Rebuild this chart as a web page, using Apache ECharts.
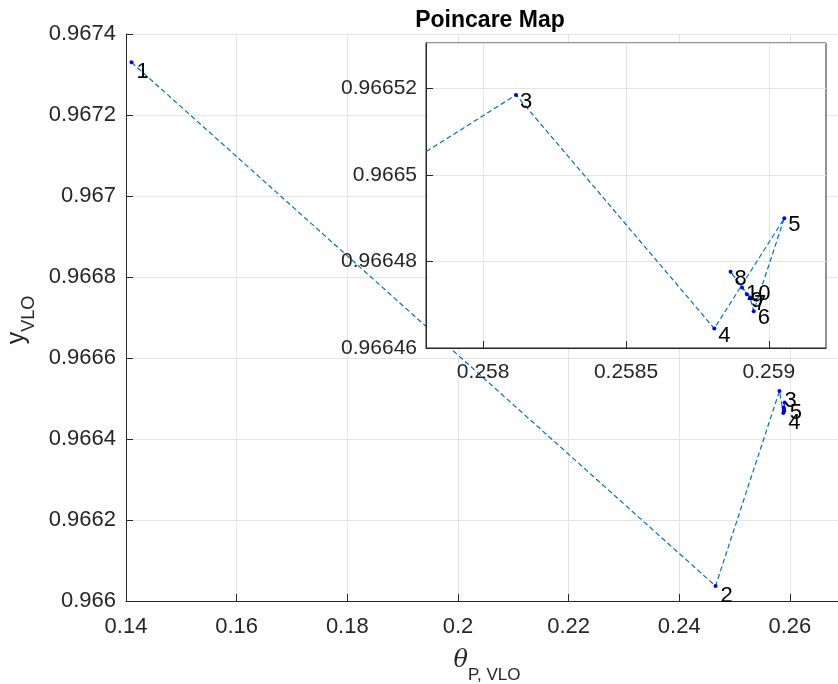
<!DOCTYPE html>
<html>
<head>
<meta charset="utf-8">
<script src="https://cdn.jsdelivr.net/npm/echarts@6/dist/echarts.min.js"></script>
<style>
  html, body { margin: 0; padding: 0; background: #fff; }
  #chart { width: 838px; height: 684px; }
</style>
</head>
<body>
<div id="chart"></div>
<script>
// Poincare map points
const thetaVals = [0.1410, 0.24656, 0.258115, 0.258809, 0.259054, 0.258947, 0.258934, 0.258866, 0.258923, 0.258906];
const yVals = [0.96733, 0.966037, 0.9665185, 0.9664645, 0.96649, 0.9664685, 0.9664717, 0.9664776, 0.9664724, 0.966474];
const pointLabels = ['1', '2', '3', '4', '5', '6', '7', '8', '9', '10'];
const insetXTicks = [0.258, 0.2585, 0.259];

const FONT = 'Liberation Sans';
const AXIS_COLOR = '#262626';
const GRID_COLOR = '#e3e3e3';

const points = thetaVals.map((x, i) => [x, yVals[i]]);

const chart = echarts.init(document.getElementById('chart'));

const option = {
  backgroundColor: '#fff',
  animation: false,
  title: {
    text: 'Poincare Map',
    left: 485,
    top: 4,
    textAlign: 'center',
    textStyle: { fontFamily: FONT, fontSize: 23, fontWeight: 'bold', color: '#000' }
  },
  grid: [
    // main axes, cut off by the window on the right
    { left: 126, right: 0, top: 34, bottom: 83, outerBoundsMode: 'none' },
    // inset
    {
      left: 426, top: 43, width: 400, height: 305, outerBoundsMode: 'none',
      show: true, backgroundColor: '#fff', borderColor: AXIS_COLOR, borderWidth: 1, z: 10
    }
  ],
  xAxis: [
    {
      type: 'value', gridIndex: 0, min: 0.14, max: 0.2687, interval: 0.02,
      axisLine: { show: true, onZero: false, lineStyle: { color: AXIS_COLOR } },
      axisTick: { show: true, inside: true, length: 7, lineStyle: { color: AXIS_COLOR } },
      axisLabel: { fontFamily: FONT, fontSize: 22, color: AXIS_COLOR, margin: 15, showMaxLabel: false },
      splitLine: { show: true, showMaxLine: false, lineStyle: { color: GRID_COLOR } }
    },
    {
      type: 'value', gridIndex: 1, min: 0.2578, max: 0.2592, z: 11,
      axisLine: { show: true, onZero: false, lineStyle: { color: AXIS_COLOR } },
      axisTick: { show: true, inside: true, length: 7, customValues: insetXTicks, lineStyle: { color: AXIS_COLOR } },
      axisLabel: { fontFamily: FONT, fontSize: 21, color: AXIS_COLOR, margin: 14, customValues: insetXTicks },
      splitLine: { show: true, lineStyle: { color: GRID_COLOR } }
    }
  ],
  yAxis: [
    {
      type: 'value', gridIndex: 0, min: 0.966, max: 0.9674, interval: 0.0002,
      axisLine: { show: true, onZero: false, lineStyle: { color: AXIS_COLOR } },
      axisTick: { show: true, inside: true, length: 7, lineStyle: { color: AXIS_COLOR } },
      axisLabel: { fontFamily: FONT, fontSize: 22, color: AXIS_COLOR, margin: 10 },
      splitLine: { show: true, lineStyle: { color: GRID_COLOR } }
    },
    {
      type: 'value', gridIndex: 1, min: 0.96646, max: 0.9665305, interval: 0.00002, z: 11,
      axisLine: { show: true, onZero: false, lineStyle: { color: AXIS_COLOR } },
      axisTick: { show: true, inside: true, length: 7, lineStyle: { color: AXIS_COLOR } },
      axisLabel: { fontFamily: FONT, fontSize: 21, color: AXIS_COLOR, margin: 9, showMaxLabel: false },
      splitLine: { show: true, lineStyle: { color: GRID_COLOR } }
    }
  ],
  series: [
    {
      type: 'line', xAxisIndex: 0, yAxisIndex: 0, data: points, z: 2,
      symbol: 'circle', symbolSize: 4, showSymbol: true,
      itemStyle: { color: '#0000ff' },
      lineStyle: { color: '#0072BD', width: 1.2, type: [5, 3] },
      label: {
        show: true, position: 'right', distance: 3, offset: [0, 10],
        fontFamily: FONT, fontSize: 22, color: '#000',
        formatter: p => (p.dataIndex < 5 ? pointLabels[p.dataIndex] : '')
      }
    },
    {
      type: 'line', xAxisIndex: 1, yAxisIndex: 1, data: points, z: 12, clip: true,
      symbol: 'circle', symbolSize: 4, showSymbol: true,
      itemStyle: { color: '#0000ff' },
      lineStyle: { color: '#0072BD', width: 1.2, type: [5, 3] },
      label: {
        show: true, position: 'right', distance: 2, offset: [0, 7],
        fontFamily: FONT, fontSize: 22, color: '#000',
        formatter: p => pointLabels[p.dataIndex]
      }
    }
  ],
  graphic: [
    // x axis title: theta with subscript
    {
      type: 'text', x: 487, y: 661,
      style: {
        text: '{t|θ}{s|P, VLO}',
        align: 'center', verticalAlign: 'middle',
        rich: {
          t: { fontFamily: 'DejaVu Serif', fontStyle: 'italic', fontSize: 24, fill: AXIS_COLOR, lineHeight: 26 },
          s: { fontFamily: FONT, fontSize: 17, fill: AXIS_COLOR, lineHeight: 17, padding: [28, 0, 0, 0] }
        }
      }
    },
    // y axis title: y with subscript, rotated
    {
      type: 'text', x: 17, y: 320, rotation: Math.PI / 2,
      style: {
        text: '{t|y}{s|VLO}',
        align: 'center', verticalAlign: 'middle',
        rich: {
          t: { fontFamily: FONT, fontSize: 25, fill: AXIS_COLOR, lineHeight: 25 },
          s: { fontFamily: FONT, fontSize: 18, fill: AXIS_COLOR, lineHeight: 18, padding: [24, 0, 0, 0] }
        }
      }
    }
  ]
};

chart.setOption(option);
</script>
</body>
</html>
